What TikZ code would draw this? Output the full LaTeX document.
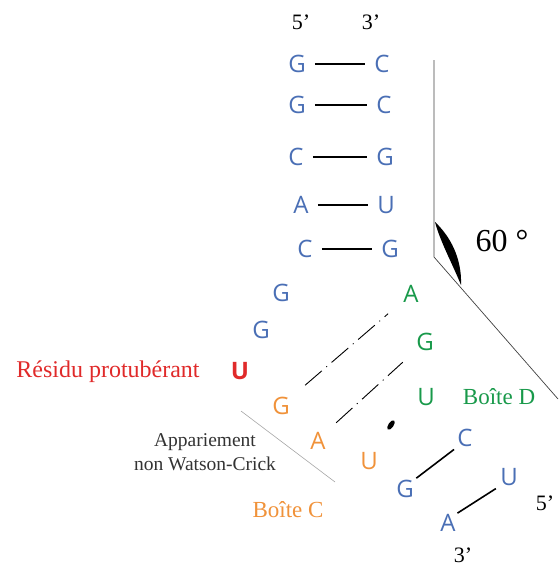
\documentclass[tikz,border=0pt]{standalone}
\usepackage{fontspec}
\setmainfont{Liberation Serif}
\newfontfamily\nucfont{Open Sans}
\usetikzlibrary{positioning}
\definecolor{bleu}{HTML}{4A6FB5}
\definecolor{vert}{HTML}{18994A}
\definecolor{orange}{HTML}{F0923A}
\definecolor{rouge}{HTML}{E02A2A}
\definecolor{gristexte}{HTML}{333333}

\begin{document}
\begin{tikzpicture}[x=1pt, y=-1pt,
    nt/.style={font=\nucfont\fontsize{24}{24}\selectfont, inner sep=0pt, text=bleu},
    etiquette/.style={font=\fontsize{22}{26}\selectfont, inner sep=0pt, align=center},
    paire/.style={line width=1.6pt, shorten <=9pt, shorten >=9pt},
    nonwc/.style={line width=0.9pt, dash pattern=on 22pt off 6pt on 1pt off 6pt, shorten <=20pt, shorten >=20pt},
    trait/.style={line width=0.7pt, black!75}
]
    \useasboundingbox (0,0) rectangle (558,570);

    \node[etiquette] (cinq) at (301,22) {5’};
    \node[etiquette] (trois) at (371,22) {3’};

    \node[nt] (g1) at (297,64) {G};
    \node[nt] (g2) at (297,105) {G};
    \node[nt] (c3) at (296,157) {C};
    \node[nt] (a4) at (301,205) {A};
    \node[nt] (c5) at (305,249) {C};
    \node[nt] (c1) at (382,64) {C};
    \node[nt] (c2) at (384,105) {C};
    \node[nt] (g3) at (385,157) {G};
    \node[nt] (u4) at (386,205) {U};
    \node[nt] (g5) at (390,249) {G};

    \node[nt] (g6) at (281,293) {G};
    \node[nt] (g7) at (261,330) {G};
    \node[nt, text=rouge, font=\nucfont\bfseries\fontsize{24}{24}\selectfont] (bulle) at (240,371) {U};
    \node[nt, text=orange] (gc) at (281,406) {G};
    \node[nt, text=orange] (ac) at (318,441) {A};
    \node[nt, text=orange] (uc) at (369,461) {U};
    \node[nt] (g8) at (405,489) {G};
    \node[nt] (a9) at (448,523) {A};

    \node[nt, text=vert] (ad) at (411,294) {A};
    \node[nt, text=vert] (gd) at (425,342) {G};
    \node[nt, text=vert] (ud) at (426,397) {U};
    \node[nt] (c8) at (465,438) {C};
    \node[nt] (u9) at (509,477) {U};

    \node[etiquette] (cinqb) at (545,503) {5’};
    \node[etiquette] (troisb) at (463,555) {3’};

    \draw[paire] (g1) -- (c1);
    \draw[paire] (g2) -- (c2);
    \draw[paire] (c3) -- (g3);
    \draw[paire] (a4) -- (u4);
    \draw[paire] (c5) -- (g5);
    \draw[paire, shorten <=3pt, shorten >=4pt] (g8.north east) -- (c8.south west);
    \draw[paire, shorten <=2pt, shorten >=5pt] (a9.north east) -- (u9.south west);
    \draw[nonwc] (gc) -- (ad);
    \draw[nonwc, shorten <=14pt, shorten >=18pt] (ac.north east) -- (gd);

    \node[etiquette, text=rouge, font=\fontsize{24}{26}\selectfont] (residu) at (108,372) {Résidu protubérant};
    \node[etiquette, text=gristexte, font=\fontsize{19.5}{24}\selectfont] (appar) at (205,452) {Appariement\\non Watson-Crick};
    \node[etiquette, text=vert, font=\fontsize{23}{26}\selectfont] (boited) at (499,397) {Boîte D};
    \node[etiquette, text=orange, font=\fontsize{23}{26}\selectfont] (boitec) at (288,510) {Boîte C};
    \node[etiquette, font=\fontsize{32}{34}\selectfont] (angle) at (502,241) {60 °};

    \draw[trait] (434,60) -- (434,257) -- (558,399);
    \fill (435,222) .. controls (450,236) and (462,258) .. (461,285)
        .. controls (452,263) and (440,241) .. cycle;
    \fill[rotate around={-35:(391,425)}] (391,425) ellipse [x radius=2.6, y radius=5.5];
    \draw[black!35, line width=0.6pt] (241,411) -- (335,482);
\end{tikzpicture}
\end{document}
